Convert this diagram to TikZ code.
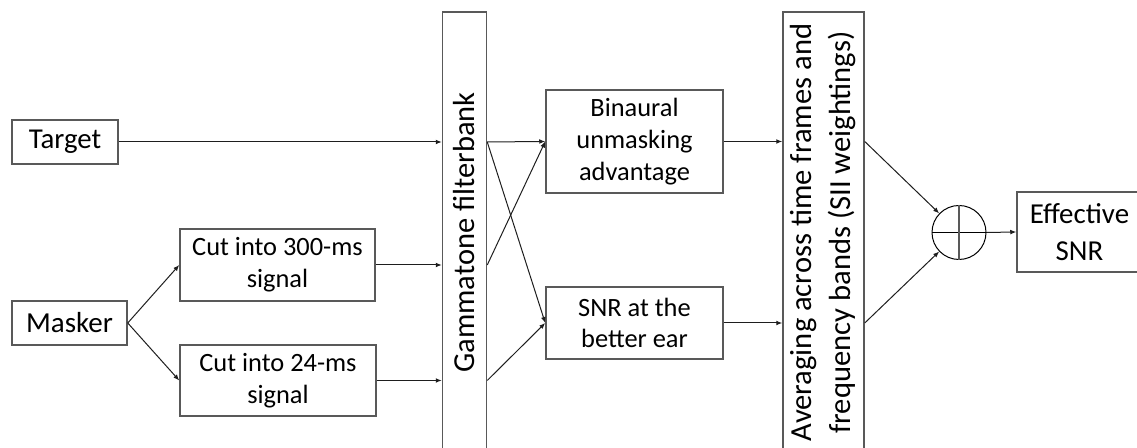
\documentclass[tikz,border=0pt]{standalone}
\usepackage{fontspec}
\setmainfont{Carlito}
\usetikzlibrary{arrows.meta}

\definecolor{edgegray}{RGB}{89,89,89}
\definecolor{linegray}{RGB}{30,30,30}

\tikzset{
    blk/.style={draw=edgegray, line width=0.75pt, inner sep=0pt, align=center,
        font=\fontsize{13.2}{15.85}\selectfont},
    arr/.style={draw=linegray, line width=0.5pt, -{Latex[length=3pt,width=2.4pt]}},
    wire/.style={draw=linegray, line width=0.5pt}
}

\begin{document}
\begin{tikzpicture}[x=0.5pt, y=0.5pt]
    \useasboundingbox (0,0) rectangle (1137,448);
    \def \bh {220.5pt} % height of the tall boxes

    % Inputs
    \node (target) at (65,306) [blk, minimum width=53pt, minimum height=22pt,
        font=\fontsize{14.4}{17}\selectfont] {Target};
    \node (masker) at (69.5,125) [blk, minimum width=57.5pt, minimum height=22pt,
        font=\fontsize{14.5}{17}\selectfont] {Masker};
    \node (cutlong) at (277.5,183) [blk, minimum width=97.5pt, minimum height=36pt] {Cut into 300-ms\\signal};
    \node (cutshort) at (278,67.5) [blk, minimum width=98pt, minimum height=35.5pt] {Cut into 24-ms\\signal};

    % Tall boxes
    \node (gamma) at (464.5,215.5) [blk, minimum width=22pt, minimum height=\bh] {};
    \node at (gamma) [rotate=90, font=\fontsize{15.25}{18}\selectfont] {Gammatone filterbank};
    \node (avg) at (823.5,215.5) [blk, minimum width=40.5pt, minimum height=\bh] {};
    \node at (avg) [rotate=90, align=center, font=\fontsize{15.3}{19.5}\selectfont]
        {Averaging across time frames and\\frequency bands (SII weightings)};

    % Middle boxes
    \node (binaural) at (634.5,306.5) [blk, minimum width=88.5pt, minimum height=51.5pt] {Binaural\\unmasking\\advantage};
    \node (better) at (634.5,125) [blk, minimum width=88.5pt, minimum height=36pt] {SNR at the\\better ear};

    % Sum and output
    \node (sum) at (959,215.5) [circle, draw=black, line width=0.5pt, minimum size=27pt, inner sep=0pt] {};
    \draw[black, line width=0.5pt] (sum.west) -- (sum.east);
    \draw[edgegray, line width=0.75pt] (sum.north) -- (sum.south);
    \node (effsnr) at (1079.5,216) [blk, minimum width=62.5pt, minimum height=40pt,
        font=\fontsize{14.45}{18.3}\selectfont] {Effective\\SNR};

    % Connectors
    \draw[arr] (target.east) -- (gamma.west |- target);
    \draw[arr] (masker.east) -- (cutlong.west);
    \draw[arr] (masker.east) -- (cutshort.west);
    \draw[arr] (cutlong.east) -- (gamma.west |- cutlong);
    \draw[arr] (cutshort.east) -- (gamma.west |- cutshort);

    \draw[arr] (gamma.east |- target) -- (binaural.west);
    \draw[arr] (gamma.east |- target) -- (better.west);
    \draw[arr] (gamma.east |- cutlong) -- (binaural.west);
    \draw[arr] (gamma.east |- cutshort) -- (better.west);

    \draw[arr] (binaural.east) -- (avg.west |- binaural);
    \draw[arr] (better.east) -- (avg.west |- better);
    \draw[arr] (avg.east |- binaural) -- (sum);
    \draw[arr] (avg.east |- better) -- (sum);
    \draw[arr] (sum.east) -- (effsnr.west);
\end{tikzpicture}
\end{document}
